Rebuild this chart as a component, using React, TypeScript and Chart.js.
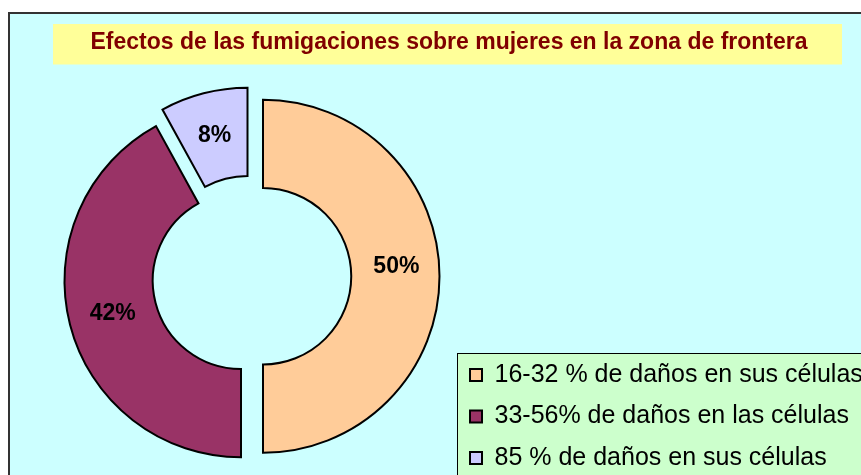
import React, { useEffect, useRef } from "react";
import { Chart, registerables } from "chart.js";

Chart.register(...registerables);

const chartTitle = "Efectos de las fumigaciones sobre mujeres en la zona de frontera";
const categories = [
  "16-32 % de daños en sus células",
  "33-56% de daños en las células",
  "85 % de daños en sus células",
];
const values = [50, 42, 8];
const sliceColors = ["#FFCC99", "#993366", "#CCCCFF"];

// explosion of each slice away from the common centre (style, in px)
const explodeShift: [number, number][] = [
  [0, 0],
  [-22, 4.5],
  [-15.5, -12],
];
// small nudges of the percentage labels (style, in px)
const labelNudge: [number, number][] = [
  [1, -10],
  [0, 0],
  [0, 0],
];

const FONT = '"Liberation Sans", Arial, Helvetica, sans-serif';

const backgroundPlugin = {
  id: "panelBackground",
  beforeDraw(chart: any) {
    const { ctx, width, height } = chart;
    ctx.save();
    ctx.fillStyle = "#FFFFFF";
    ctx.fillRect(0, 0, width, height);
    ctx.fillStyle = "#CCFFFF";
    ctx.fillRect(9, 13, width, height);
    ctx.strokeStyle = "#333333";
    ctx.lineWidth = 2;
    ctx.strokeRect(9, 13, width + 20, height + 20);
    // title panel + title text
    ctx.fillStyle = "#FFFF99";
    ctx.fillRect(53, 24, 789, 40.5);
    ctx.font = `bold 23px ${FONT}`;
    ctx.fillStyle = "#800000";
    ctx.textAlign = "center";
    ctx.textBaseline = "middle";
    ctx.fillText(chartTitle, 449, 43);
    // legend panel
    const lg = chart.legend;
    if (lg && lg.legendHitBoxes && lg.legendHitBoxes.length) {
      const hb = lg.legendHitBoxes[0];
      const bx = Math.round(hb.left - 13.5) + 0.5;
      const by = Math.round(hb.top - 10) + 0.5;
      ctx.fillStyle = "#CCFFCC";
      ctx.fillRect(bx, by, width - bx + 20, height - by + 20);
      ctx.strokeStyle = "#000000";
      ctx.lineWidth = 1;
      ctx.strokeRect(bx, by, width - bx + 20, height - by + 20);
    }
    ctx.restore();
  },
};

const explodePlugin = {
  id: "explodeSlices",
  afterDatasetsUpdate(chart: any) {
    const meta = chart.getDatasetMeta(0);
    meta.data.forEach((arc: any, i: number) => {
      const s = explodeShift[i] || [0, 0];
      arc.x += s[0];
      arc.y += s[1];
    });
  },
};

const sliceLabelPlugin = {
  id: "sliceLabels",
  afterDatasetsDraw(chart: any) {
    const { ctx } = chart;
    const meta = chart.getDatasetMeta(0);
    const data: number[] = chart.data.datasets[0].data;
    const total = data.reduce((a, b) => a + b, 0);
    ctx.save();
    ctx.font = `bold 23px ${FONT}`;
    ctx.fillStyle = "#000000";
    ctx.textAlign = "center";
    ctx.textBaseline = "middle";
    meta.data.forEach((arc: any, i: number) => {
      const p = arc.tooltipPosition(false);
      const n = labelNudge[i] || [0, 0];
      ctx.fillText(`${Math.round((data[i] / total) * 100)}%`, p.x + n[0], p.y + n[1]);
    });
    ctx.restore();
  },
};

export default function App() {
  const ref = useRef<HTMLCanvasElement | null>(null);

  useEffect(() => {
    if (!ref.current) return;
    const chart = new Chart(ref.current, {
      type: "doughnut",
      data: {
        labels: categories,
        datasets: [
          {
            data: values,
            backgroundColor: sliceColors,
            borderColor: "#000000",
            borderWidth: 2,
            borderJoinStyle: "miter",
          } as any,
        ],
      },
      options: {
        responsive: false,
        animation: false,
        events: [],
        radius: 176.5,
        cutout: "50%",
        layout: { padding: { left: 72.5, right: 6.5, top: 65.5, bottom: 3 } },
        plugins: {
          title: { display: false },
          legend: {
            position: "right",
            align: "end",
            maxWidth: 410,
            labels: {
              boxWidth: 12,
              boxHeight: 12,
              padding: 16.5,
              color: "#000000",
              font: { family: FONT, size: 25 },
            },
          },
          tooltip: { enabled: false },
        },
      } as any,
      plugins: [backgroundPlugin, explodePlugin, sliceLabelPlugin],
    });
    return () => chart.destroy();
  }, []);

  return (
    <div
      style={{
        position: "fixed",
        left: 0,
        top: 0,
        width: 861,
        height: 475,
        overflow: "hidden",
        background: "#ffffff",
      }}
    >
      <canvas ref={ref} width={870} height={490} style={{ display: "block" }} />
    </div>
  );
}
